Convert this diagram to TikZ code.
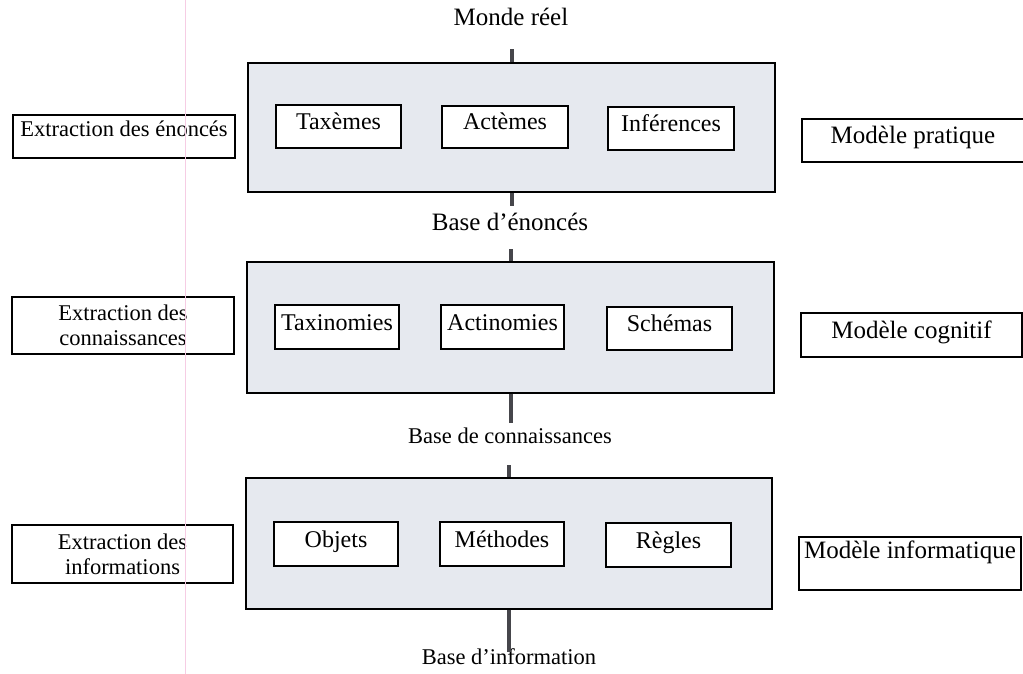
\documentclass[tikz,border=0pt]{standalone}
\usepackage{fontspec}
\setmainfont{Liberation Serif}
\definecolor{panel}{RGB}{230,233,239}
\definecolor{stubc}{RGB}{70,70,75}
\definecolor{margin}{RGB}{246,205,228}
\begin{document}
\begin{tikzpicture}[x=1pt,y=-1pt,
  big/.style={draw=black, line width=1.4pt, fill=panel, inner sep=0pt},
  item/.style={draw=black, line width=1.5pt, fill=white, inner sep=0pt, text height=15pt, text depth=9pt, font=\fontsize{24}{26}\selectfont},
  side/.style={draw=black, line width=1.4pt, inner sep=0pt, align=center, font=\fontsize{22.5}{25}\selectfont},
  model/.style={draw=black, line width=1.4pt, fill=white, inner sep=0pt, text height=15pt, text depth=9pt, font=\fontsize{25}{27}\selectfont},
  lab/.style={inner sep=0pt, font=\fontsize{25}{27}\selectfont},
  labs/.style={inner sep=0pt, font=\fontsize{22.5}{25}\selectfont},
  stub/.style={draw=stubc, line width=4pt}]
\useasboundingbox (0,0) rectangle (1023,674);
\fill[white] (0,0) rectangle (1023,674);

% block 1
\node[big, minimum width=527pt, minimum height=129pt] (b1) at (511.5,127.5) {};
\node[item, minimum width=125pt, minimum height=43pt] (tax) at (338.5,126.5) {Taxèmes};
\node[item, minimum width=126pt, minimum height=42pt] (act) at (505,127) {Actèmes};
\node[item, minimum width=126pt, minimum height=43pt] (inf) at (671,128.5) {Inférences};
\node[side, minimum width=222pt, text height=19pt, text depth=18pt, inner ysep=3pt] (e1) at (124,136.5) {Extraction des énoncés};
\node[model, minimum width=222pt, minimum height=43pt] (m1) at (913,140.5) {Modèle pratique};
\node[lab] (monde) at (511,17) {Monde réel};
\node[lab] (benon) at (510,222) {Base d’énoncés};
\draw[stub] (b1.north) -- ([yshift=13pt]b1.north);
\draw[stub] (b1.south) -- ([yshift=-13pt]b1.south);

% block 2
\node[big, minimum width=527pt, minimum height=131pt] (b2) at (510.5,327.5) {};
\node[item, minimum width=124pt, minimum height=44pt] (taxi) at (337,327) {Taxinomies};
\node[item, minimum width=123pt, minimum height=44pt] (acti) at (502.5,327) {Actinomies};
\node[item, minimum width=125pt, minimum height=43pt] (sch) at (669.5,328.5) {Schémas};
\node[side, minimum width=222pt, minimum height=57pt] (e2) at (123,325.5) {Extraction des\\connaissances};
\node[model, minimum width=221pt, minimum height=44pt] (m2) at (911.5,335) {Modèle cognitif};
\node[labs] (bconn) at (510,436) {Base de connaissances};
\draw[stub] (b2.north) -- ([yshift=12pt]b2.north);
\draw[stub] (b2.south) -- ([yshift=-29pt]b2.south);

% block 3
\node[big, minimum width=526pt, minimum height=131pt] (b3) at (509,543.5) {};
\node[item, minimum width=124pt, minimum height=44pt] (obj) at (336,544) {Objets};
\node[item, minimum width=124pt, minimum height=44pt] (meth) at (502,544) {Méthodes};
\node[item, minimum width=125pt, minimum height=44pt] (reg) at (668.5,545) {Règles};
\node[side, minimum width=221pt, minimum height=58pt] (e3) at (122.5,554) {Extraction des\\informations};
\node[model, minimum width=222pt, minimum height=53pt, text height=17pt, text depth=27pt] (m3) at (910,563.5) {Modèle informatique};
\node[labs] (binfo) at (509,657) {Base d’information};
\draw[stub] (b3.north) -- ([yshift=12pt]b3.north);
\draw[stub] (b3.south) -- ([yshift=-42pt]b3.south);

% faint margin line of the page
\draw[margin, line width=1pt] (185,0) -- (185,674);
\end{tikzpicture}
\end{document}
